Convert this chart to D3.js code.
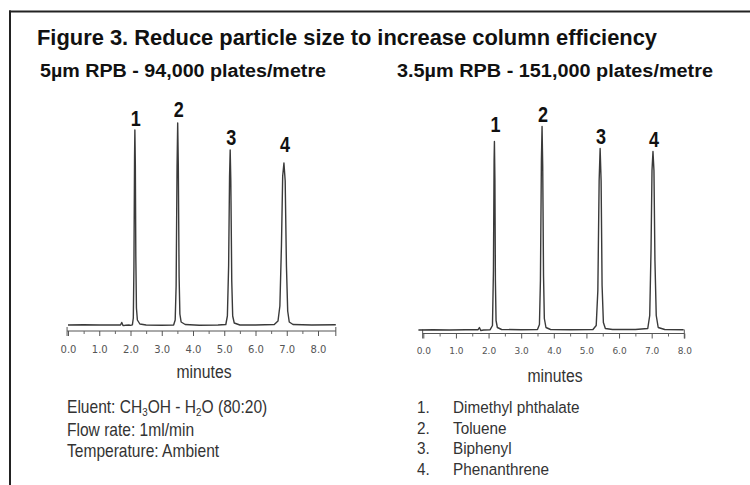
<!DOCTYPE html>
<html><head><meta charset="utf-8">
<script src="https://cdn.jsdelivr.net/npm/d3@7/dist/d3.min.js"></script>
<style>
html,body{margin:0;padding:0;background:#fff;}
svg{display:block;}
</style></head>
<body>
<svg id="c" width="750" height="485"></svg>
<script>
// ---------- DATA ----------
const title = "Figure 3. Reduce particle size to increase column efficiency";
const leftSubtitle = "5µm RPB - 94,000 plates/metre";
const rightSubtitle = "3.5µm RPB - 151,000 plates/metre";
const xTickValues = [0, 1, 2, 3, 4, 5, 6, 7, 8];
const xTickLabels = ["0.0", "1.0", "2.0", "3.0", "4.0", "5.0", "6.0", "7.0", "8.0"];
const xMinorTicks = [0.5, 1.5, 2.5, 3.5, 4.5, 5.5, 6.5, 7.5];
const xAxisTitle = "minutes";
const peakNumbers = ["1", "2", "3", "4"];
const compounds = ["Dimethyl phthalate", "Toluene", "Biphenyl", "Phenanthrene"];

// left chromatogram (5µm): retention time (min), detector signal (arbitrary units)
const leftPeakTimes = [2.14, 3.51, 5.19, 6.91];
const leftPeakHeights = [196, 203, 176, 163];
const leftTrace = [
  [0.0, 1.0], [0.5, 1.2], [1.0, 1.0], [1.5, 1.1], [1.68, 1.0], [1.72, 3.5], [1.76, 0.4],
  [1.85, 0.8], [1.95, 1.0], [2.0, 0.6], [2.06, 1.2], [2.09, 8], [2.11, 60], [2.13, 170],
  [2.14, 196], [2.155, 160], [2.17, 70], [2.19, 18], [2.22, 6], [2.3, 2], [2.5, 1.0],
  [3.0, 0.8], [3.38, 1.0], [3.43, 6], [3.46, 40], [3.49, 160], [3.51, 203], [3.53, 160],
  [3.555, 50], [3.58, 12], [3.62, 4], [3.75, 1.5], [4.2, 0.8], [4.8, 1.0], [5.05, 1.5],
  [5.1, 10], [5.14, 60], [5.17, 150], [5.19, 176], [5.21, 145], [5.24, 45], [5.27, 10],
  [5.32, 3], [5.5, 1.0], [6.0, 1.0], [6.6, 1.5], [6.72, 5], [6.78, 20], [6.83, 80],
  [6.87, 150], [6.91, 163], [6.95, 145], [6.99, 60], [7.03, 15], [7.08, 4], [7.2, 1.5],
  [7.8, 1.0], [8.57, 1.2]
];

// right chromatogram (3.5µm)
const rightPeakTimes = [2.18, 3.64, 5.42, 7.04];
const rightPeakHeights = [189, 204, 182, 179];
const rightTrace = [
  [-0.15, 0.5], [0.3, 0.8], [0.8, 0.5], [1.3, 0.8], [1.68, 0.8], [1.72, 3], [1.76, 0],
  [1.85, 0.5], [2.05, 0.8], [2.12, 5], [2.15, 60], [2.17, 170], [2.18, 189], [2.195, 150],
  [2.21, 50], [2.23, 10], [2.27, 3], [2.4, 1.0], [3.0, 0.8], [3.5, 1.0], [3.56, 6],
  [3.59, 50], [3.62, 170], [3.64, 204], [3.66, 165], [3.685, 55], [3.71, 12], [3.76, 3],
  [3.9, 1.0], [4.5, 0.8], [5.2, 1.0], [5.3, 5], [5.35, 40], [5.39, 150], [5.42, 182],
  [5.45, 150], [5.48, 45], [5.52, 8], [5.58, 2], [5.8, 1.0], [6.5, 1.0], [6.88, 2],
  [6.94, 15], [6.98, 80], [7.01, 160], [7.04, 179], [7.07, 160], [7.10, 70], [7.14, 15],
  [7.2, 3], [7.4, 1.0], [7.98, 0.8]
];

const eluentNotes = ["Flow rate: 1ml/min", "Temperature: Ambient"];

// ---------- DRAW ----------
const svg = d3.select("#c");
const sans = "'Liberation Sans', Arial, sans-serif";

// frame
svg.append("line").attr("x1", 9).attr("x2", 750).attr("y1", 11.5).attr("y2", 11.5)
  .attr("stroke", "#222").attr("stroke-width", 2);
svg.append("line").attr("x1", 10).attr("x2", 10).attr("y1", 10.5).attr("y2", 485)
  .attr("stroke", "#222").attr("stroke-width", 2);

svg.append("text").attr("x", 37).attr("y", 45).text(title)
  .attr("font-family", sans).attr("font-weight", "bold").attr("font-size", 22.5)
  .attr("fill", "#111").attr("textLength", 620).attr("lengthAdjust", "spacingAndGlyphs");
svg.append("text").attr("x", 40).attr("y", 77).text(leftSubtitle)
  .attr("font-family", sans).attr("font-weight", "bold").attr("font-size", 18)
  .attr("fill", "#111").attr("textLength", 286).attr("lengthAdjust", "spacingAndGlyphs");
svg.append("text").attr("x", 397).attr("y", 77).text(rightSubtitle)
  .attr("font-family", sans).attr("font-weight", "bold").attr("font-size", 18)
  .attr("fill", "#111").attr("textLength", 316).attr("lengthAdjust", "spacingAndGlyphs");

function panel(cfg) {
  const x = d3.scaleLinear().domain([0, 8]).range(cfg.xr);
  const y = d3.scaleLinear().domain([0, 200]).range(cfg.yr);
  const g = svg.append("g");

  // axis line with end bars
  const ay = cfg.axisY;
  g.append("line").attr("x1", x(cfg.axisExt[0])).attr("x2", x(cfg.axisExt[1]))
    .attr("y1", ay).attr("y2", ay).attr("stroke", "#555").attr("stroke-width", 1);
  cfg.axisExt.forEach(v => g.append("line").attr("x1", x(v)).attr("x2", x(v))
    .attr("y1", ay - 4).attr("y2", ay + 5).attr("stroke", "#555"));

  const major = d3.axisBottom(x).tickValues(xTickValues)
    .tickFormat((d, i) => xTickLabels[i]).tickSizeInner(5).tickSizeOuter(0).tickPadding(9);
  const ga = g.append("g").attr("transform", `translate(0,${ay})`).call(major);
  ga.select(".domain").remove();
  ga.selectAll(".tick line").attr("stroke", "#555");
  ga.selectAll(".tick text").attr("font-family", "'DejaVu Sans', sans-serif")
    .attr("font-size", cfg.tickFont).attr("fill", "#555").attr("dy", 0)
    .attr("y", cfg.tickLabelY - ay);

  const minor = d3.axisBottom(x).tickValues(xMinorTicks).tickFormat("")
    .tickSizeInner(3).tickSizeOuter(0);
  const gm = g.append("g").attr("transform", `translate(0,${ay})`).call(minor);
  gm.select(".domain").remove();
  gm.selectAll(".tick line").attr("stroke", "#666");

  // trace
  const line = d3.line().x(d => x(d[0])).y(d => y(d[1]));
  g.append("path").datum(cfg.trace).attr("d", line).attr("fill", "none")
    .attr("stroke", "#3a3a3a").attr("stroke-width", 1.4).attr("stroke-linejoin", "round");

  // peak labels (condensed bold)
  g.selectAll("text.pk").data(peakNumbers).enter().append("text").attr("class", "pk")
    .attr("transform", (d, i) =>
      `translate(${x(cfg.times[i]) + 1},${y(cfg.heights[i]) - cfg.labelGap[i]}) scale(0.82,1)`)
    .attr("text-anchor", "middle").attr("font-family", sans).attr("font-weight", "bold")
    .attr("font-size", 22).attr("fill", "#111").text(d => d);

  // axis title
  g.append("text").attr("x", cfg.titleX).attr("y", cfg.titleY).attr("text-anchor", "middle")
    .attr("font-family", sans).attr("font-size", 18).attr("fill", "#333")
    .attr("textLength", 55).attr("lengthAdjust", "spacingAndGlyphs").text(xAxisTitle);
  return g;
}

panel({ xr: [68, 318], yr: [326, 126], axisY: 331, axisExt: [-0.03, 8.57],
  tickLabelY: 353, tickFont: 10, trace: leftTrace, times: leftPeakTimes,
  heights: leftPeakHeights, labelGap: [4, 6, 5, 11], titleX: 204, titleY: 378 });
panel({ xr: [423.3, 684.3], yr: [330.5, 130.5], axisY: 333.5, axisExt: [-0.02, 8.0],
  tickLabelY: 354, tickFont: 9, trace: rightTrace, times: rightPeakTimes,
  heights: rightPeakHeights, labelGap: [10, 5, 5, 5], titleX: 555, titleY: 382 });

// left notes (condensed)
const notes = svg.append("g").attr("font-family", sans).attr("font-size", 17.5).attr("fill", "#333");
const t1 = notes.append("text").attr("transform", "translate(67,413) scale(0.89,1)");
t1.append("tspan").text("Eluent: CH");
t1.append("tspan").attr("font-size", 11).attr("dy", 3).text("3");
t1.append("tspan").attr("dy", -3).text("OH - H");
t1.append("tspan").attr("font-size", 11).attr("dy", 3).text("2");
t1.append("tspan").attr("dy", -3).text("O (80:20)");
eluentNotes.forEach((s, i) => notes.append("text")
  .attr("transform", `translate(67,${436 + i * 21}) scale(0.89,1)`).text(s));

// right compound list
const list = svg.append("g").attr("font-family", sans).attr("font-size", 17).attr("fill", "#333");
compounds.forEach((c, i) => {
  list.append("text").attr("transform", `translate(417,${413 + i * 20.7}) scale(0.9,1)`).text((i + 1) + ".");
  list.append("text").attr("transform", `translate(453,${413 + i * 20.7}) scale(0.9,1)`).text(c);
});
</script>
</body></html>
